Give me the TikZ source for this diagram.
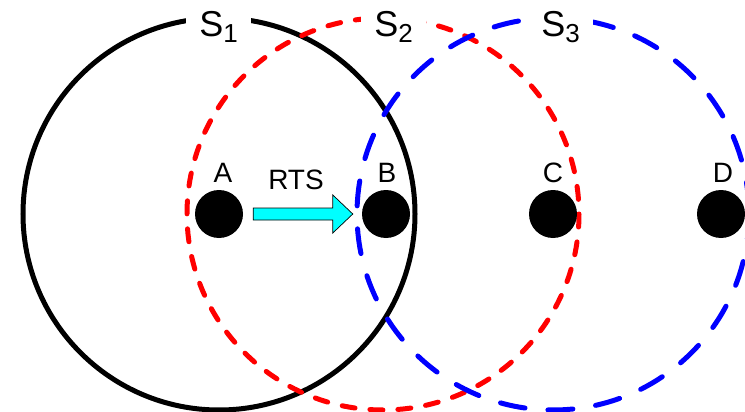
\documentclass[tikz,border=0pt]{standalone}
\usepackage{fontspec}
\setmainfont{Liberation Sans}
\usetikzlibrary{calc,backgrounds}
\definecolor{rtscyan}{RGB}{0,255,255}
\definecolor{rangered}{RGB}{255,0,0}
\definecolor{rangeblue}{RGB}{0,0,255}
\begin{document}
\begin{tikzpicture}[x=1pt,y=-1pt,
  dot/.style={circle,fill=black,minimum size=48pt,inner sep=0pt},
  dotlabel/.style={anchor=base,font=\fontsize{28}{32}\selectfont,inner sep=0pt},
  setlabel/.style={anchor=base,fill=white,inner xsep=13pt,inner ysep=3pt,font=\fontsize{36}{40}\selectfont},
  rangeA/.style={line width=5pt,black},
  rangeB/.style={line width=5pt,rangered,line cap=round,dash pattern=on 13pt off 15pt},
  rangeC/.style={line width=5pt,rangeblue,line cap=round,dash pattern=on 25pt off 23pt},
  rtsarrow/.style={fill=rtscyan,draw=black,line width=0.7pt,line join=miter}]
\useasboundingbox (0,0) rectangle (745,412);
\node[dot] (A) at (219,214) {};
\node[dot] (B) at (386,214) {};
\node[dot] (C) at (553,214) {};
\node[dot] (D) at (721,214) {};
\begin{scope}[on background layer]
  \draw[rangeA] (A) circle (196);
  \draw[rangeB] ($(B)+(-3,0)$) circle (196);
  \draw[rangeC] (C) circle (196);
\end{scope}
\node[setlabel] (s1) at (218.5,37) {S{\fontsize{26}{30}\selectfont\raisebox{-6pt}{1}}};
\node[setlabel] (s2) at (393.5,37) {S{\fontsize{26}{30}\selectfont\raisebox{-6pt}{2}}};
\node[setlabel] (s3) at (560.5,37) {S{\fontsize{26}{30}\selectfont\raisebox{-6pt}{3}}};
\node[dotlabel] (la) at (223,182) {A};
\node[dotlabel] (lb) at (387,182) {B};
\node[dotlabel] (lc) at (553,182) {C};
\node[dotlabel] (ld) at (723,182) {D};
\node[dotlabel] (rts) at (296,189) {RTS};
\draw[rtsarrow] ($(A.east)+(10,-6)$) -- ($(B.west)+(-29,-6)$) -- ($(B.west)+(-29,-19)$)
  -- ($(B.west)+(-9,0)$) -- ($(B.west)+(-29,19)$) -- ($(B.west)+(-29,6)$)
  -- ($(A.east)+(10,6)$) -- cycle;
\end{tikzpicture}
\end{document}
